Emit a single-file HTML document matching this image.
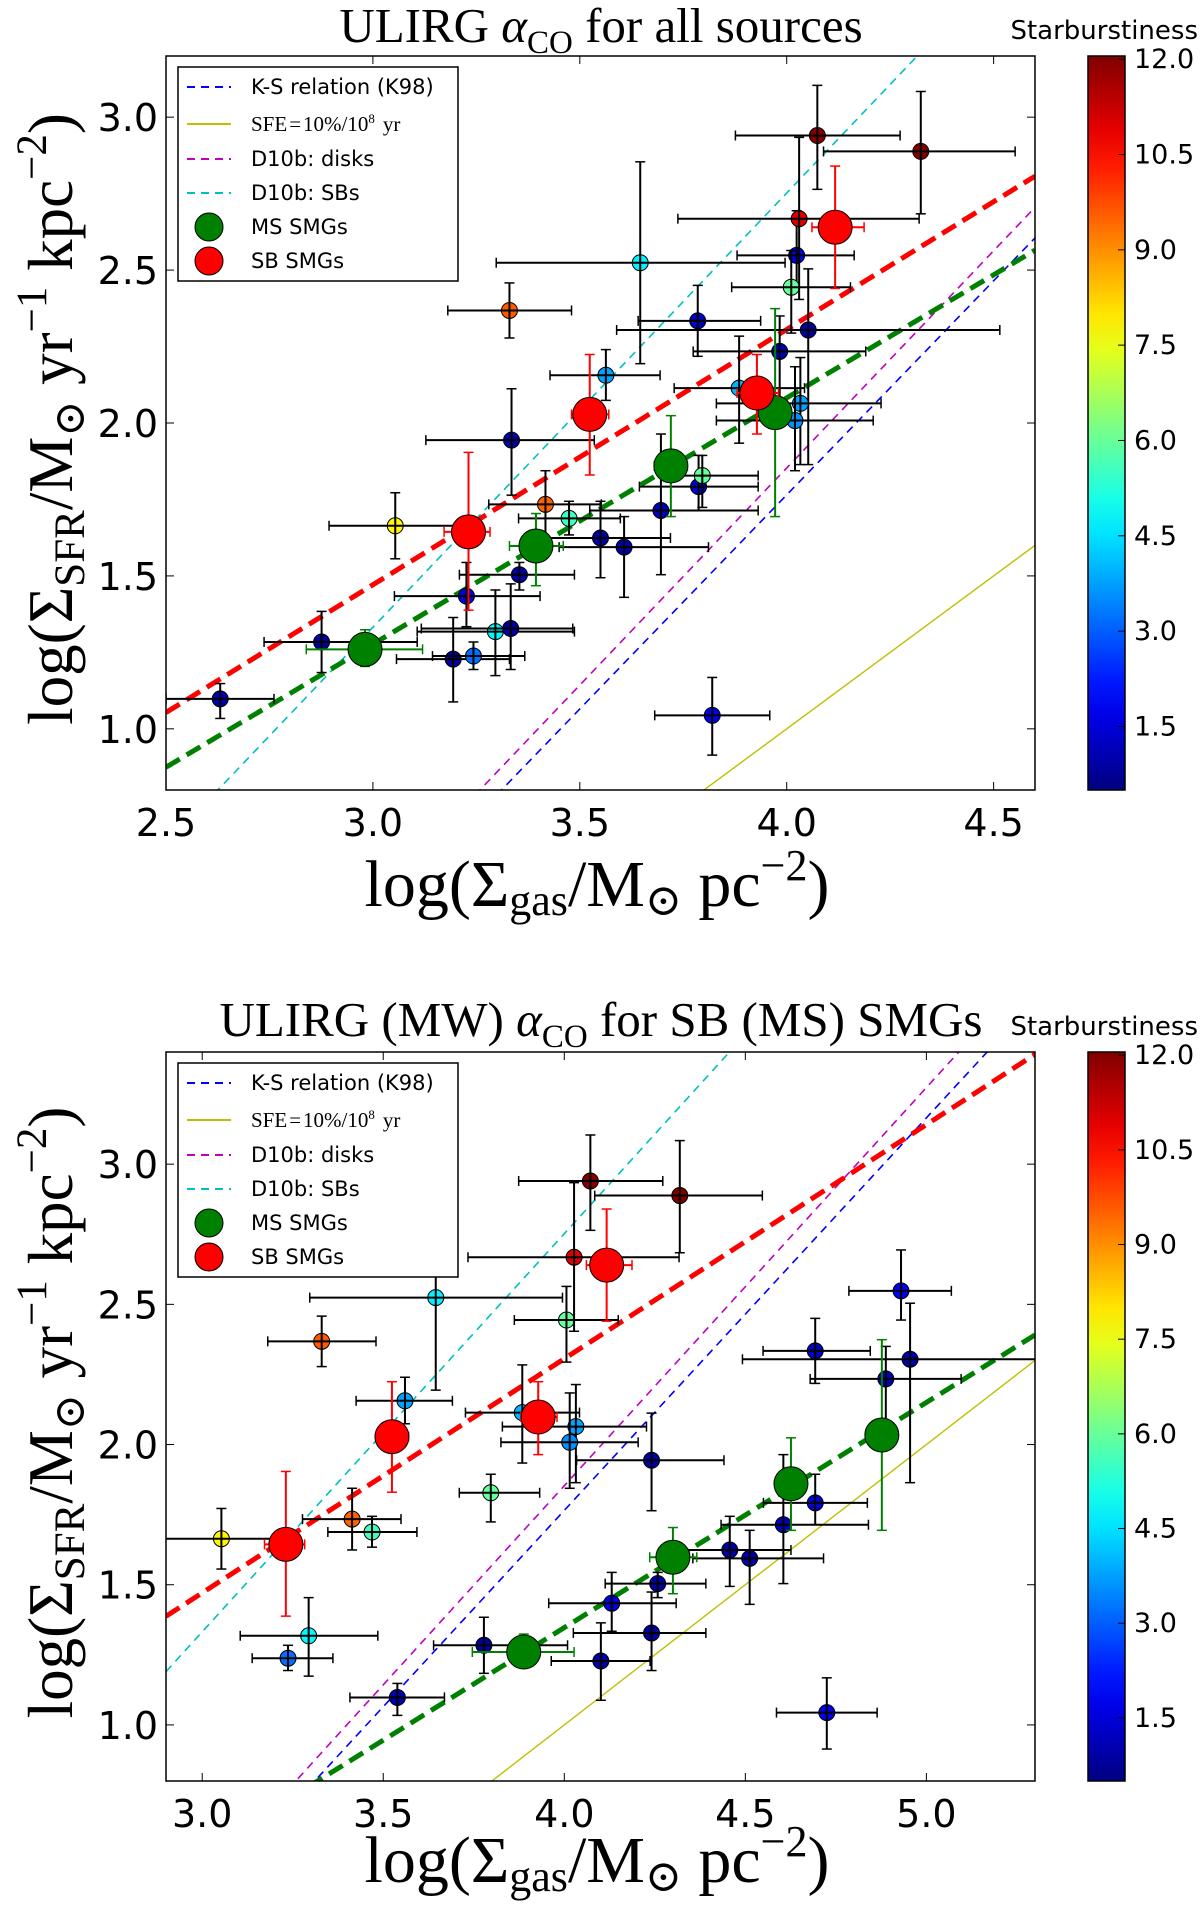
<!DOCTYPE html>
<html><head><meta charset="utf-8"><style>
html,body{margin:0;padding:0;background:#fff;overflow:hidden;width:1200px;height:1927px;}
svg{display:block;}
text{font-family:"DejaVu Sans","Liberation Sans",sans-serif;}
.serif{font-family:"Liberation Serif","DejaVu Serif",serif;}
</style></head><body>
<svg id="fig" xmlns="http://www.w3.org/2000/svg" width="1200" height="1927" viewBox="0 0 1200 1927" overflow="hidden">
<defs id="defs"></defs>
</svg>
<script>
// ---- data ----
const xTop=[2.631,2.876,3.054,3.33,3.335,3.417,3.474,3.354,3.226,3.296,3.333,3.194,3.243,3.563,3.646,3.55,3.607,3.696,3.785,3.787,3.796,3.82,3.885,3.983,4.024,4.011,4.03,4.074,4.324,4.052,4.033,4.02];
const xBot=[3.539,3.778,3.053,3.33,4.241,3.414,3.469,4.258,4.131,3.294,4.241,4.101,3.237,3.56,3.645,4.457,4.512,4.605,4.693,4.693,3.797,4.725,3.884,4.888,4.93,4.006,4.027,4.072,4.319,4.955,4.032,4.015];
const yVal=[1.098,1.284,1.664,2.368,1.944,1.734,1.688,1.504,1.434,1.318,1.328,1.228,1.238,2.156,2.524,1.624,1.594,1.714,2.334,1.792,1.828,1.044,2.114,2.234,2.548,2.444,2.668,2.94,2.888,2.304,2.064,2.008];
const xLo=[2.5,2.737,2.894,3.181,3.128,3.28,3.352,3.209,3.052,3.107,3.117,3.057,3.144,3.428,3.298,3.376,3.45,3.524,3.641,3.644,3.709,3.681,3.728,3.774,3.88,3.867,3.737,3.876,4.089,3.589,3.83,3.83];
const xHi=[2.761,3.107,3.209,3.48,3.535,3.552,3.598,3.487,3.404,3.487,3.483,3.33,3.367,3.694,3.996,3.719,3.811,3.931,3.937,3.931,3.931,3.959,4.043,4.191,4.163,4.154,4.32,4.274,4.552,4.515,4.228,4.209];
const yLo=[1.034,1.184,1.556,2.278,1.764,1.624,1.634,1.454,1.334,1.174,1.194,1.088,1.194,2.074,2.194,1.494,1.43,1.504,2.218,1.714,1.724,0.914,1.934,1.994,2.444,2.294,2.404,2.764,2.684,1.864,1.864,1.844];
const yHi=[1.148,1.384,1.772,2.458,2.112,1.844,1.744,1.544,1.544,1.454,1.474,1.364,1.284,2.24,2.854,1.744,1.694,1.964,2.45,1.894,1.894,1.168,2.284,2.35,2.694,2.564,2.934,3.104,3.084,2.504,2.214,2.184];
const sbness=[1.0,0.8,7.8,9.6,0.9,9.5,5.5,0.9,1.6,4.8,0.8,0.9,3.2,3.8,4.7,0.9,0.9,1.1,1.2,1.4,6.0,1.7,4.0,1.1,1.8,6.0,11.0,12.0,12.3,0.9,3.8,3.6];
// big MS SMGs
const msXTop=[2.981,3.394,3.72,3.972];
const msXBot=[3.888,4.30,4.626,4.877];
const msY=[1.26,1.598,1.86,2.034];
const msXLo=[2.839,3.33,3.68,3.93];
const msXHi=[3.12,3.46,3.76,4.01];
const msYLo=[1.204,1.468,1.694,1.694];
const msYHi=[1.324,1.704,2.024,2.374];
// big SB SMGs
const sbX=[3.231,3.524,3.928,4.117];
const sbY=[1.644,2.028,2.098,2.64];
const sbXLo=[3.172,3.48,3.88,4.061];
const sbXHi=[3.283,3.57,3.98,4.187];
const sbYLo=[1.388,1.83,1.964,2.44];
const sbYHi=[1.904,2.224,2.224,2.84];
// relations: [slope, intercept]
const ksLine=[1.4,-3.835];
const sfeLine=[1.0,-3.0];
const diskLine=[1.42,-3.827];
const sbLine=[1.42,-2.928];
const sbFitLine=[0.835,-1.034];
const msFitTop=[0.805,-1.138];
const msFitBot=[0.803,-1.865];
const xTicksTop=[2.5,3.0,3.5,4.0,4.5];
const xTicksBot=[3.0,3.5,4.0,4.5,5.0];
const yTicksTop=[1.0,1.5,2.0,2.5,3.0];
const yTicksBot=[1.0,1.5,2.0,2.5,3.0];
const cbTicks=[1.5,3.0,4.5,6.0,7.5,9.0,10.5,12.0];
const cbMin=0.5, cbMax=12.05;

const NS="http://www.w3.org/2000/svg";
const svg=document.getElementById('fig');
const defs=document.getElementById('defs');
function mk(tag,attrs,parent){const e=document.createElementNS(NS,tag);for(const k in attrs)e.setAttribute(k,attrs[k]);(parent||svg).appendChild(e);return e;}
function jet(t){t=Math.max(0,Math.min(1,t));const c=v=>Math.round(255*Math.max(0,Math.min(1,v)));
 return `rgb(${c(1.5-Math.abs(4*t-3))},${c(1.5-Math.abs(4*t-2))},${c(1.5-Math.abs(4*t-1))})`;}
function cmap(v){return jet((v-cbMin)/(cbMax-cbMin));}

const grad=mk('linearGradient',{id:'jetg',x1:0,y1:1,x2:0,y2:0},defs);
for(let i=0;i<=20;i++){mk('stop',{offset:(i/20),'stop-color':jet(i/20)},grad);}

function panel(p,idx){
 const sx=v=>p.x0+(v-p.xmin)/(p.xmax-p.xmin)*(p.x1-p.x0);
 const sy=v=>p.y1-(v-p.ymin)/(p.ymax-p.ymin)*(p.y1-p.y0);
 const g=mk('g',{});
 
 
 const cp=mk('clipPath',{id:'clip'+idx},defs);
 mk('rect',{x:p.x0,y:p.y0,width:p.x1-p.x0,height:p.y1-p.y0},cp);
 const plot=mk('g',{'clip-path':`url(#clip${idx})`},g);
 
 
 const lines=[[ksLine,'#0000ff',1.6,'8,6','ks-relation-line'],[diskLine,'#bf00bf',1.6,'8,6','d10b-disks-line'],[sbLine,'#00bfbf',1.6,'8,6','d10b-sbs-line'],[sfeLine,'#bfbf00',1.4,'none','sfe-line'],[sbFitLine,'#ff0000',5,'16,8','sb-fit-line'],[p.msFit,'#008000',5,'16,8','ms-fit-line']];
 lines.forEach(L=>{const [m,b]=L[0];const l=mk('line',{x1:sx(p.xmin),y1:sy(m*p.xmin+b),x2:sx(p.xmax),y2:sy(m*p.xmax+b),stroke:L[1],'stroke-width':L[2],'stroke-dasharray':L[3]},plot);
  
  });
 function eb(x,y,xl,xh,yl,yh,col,parent){
  mk('line',{x1:sx(xl),y1:sy(y),x2:sx(xh),y2:sy(y),stroke:col,'stroke-width':2},parent);
  mk('line',{x1:sx(x),y1:sy(yl),x2:sx(x),y2:sy(yh),stroke:col,'stroke-width':2},parent);
  [xl,xh].forEach(v=>mk('line',{x1:sx(v),y1:sy(y)-5,x2:sx(v),y2:sy(y)+5,stroke:col,'stroke-width':1.5},parent));
  [yl,yh].forEach(v=>mk('line',{x1:sx(x)-5,y1:sy(v),x2:sx(x)+5,y2:sy(v),stroke:col,'stroke-width':1.5},parent));
 }
 const xs=p.xs;
 for(let i=0;i<yVal.length;i++){
  const d=xs[i]-xTop[i];
  const pg=mk('g',{},plot);
  
  
  mk('circle',{cx:sx(xs[i]),cy:sy(yVal[i]),r:8,fill:cmap(sbness[i]),stroke:'#000','stroke-width':1},pg);
  eb(xs[i],yVal[i],xLo[i]+d,xHi[i]+d,yLo[i],yHi[i],'#000',pg);
 }
 for(let i=0;i<msY.length;i++){
  const d=p.msX[i]-msXTop[i];
  const pg=mk('g',{},plot);
  
  
  eb(p.msX[i],msY[i],msXLo[i]+d,msXHi[i]+d,msYLo[i],msYHi[i],'#008000',pg);
  mk('circle',{cx:sx(p.msX[i]),cy:sy(msY[i]),r:17,fill:'#008000',stroke:'#000','stroke-width':1},pg);
 }
 for(let i=0;i<sbY.length;i++){
  const pg=mk('g',{},plot);
  
  
  eb(sbX[i],sbY[i],sbXLo[i],sbXHi[i],sbYLo[i],sbYHi[i],'#ff0000',pg);
  mk('circle',{cx:sx(sbX[i]),cy:sy(sbY[i]),r:17,fill:'#ff0000',stroke:'#000','stroke-width':1},pg);
 }
 const fr=mk('rect',{x:p.x0,y:p.y0,width:p.x1-p.x0,height:p.y1-p.y0,fill:'none',stroke:'#000','stroke-width':1.5},g);
 
 
 p.xticks.forEach(v=>{const X=sx(v);
  mk('line',{x1:X,y1:p.y1,x2:X,y2:p.y1-8,stroke:'#000','stroke-width':1},g);
  mk('line',{x1:X,y1:p.y0,x2:X,y2:p.y0+8,stroke:'#000','stroke-width':1},g);
  const t=mk('text',{x:X,y:p.y1+46,'font-size':38,'text-anchor':'middle'},g);t.textContent=v.toFixed(1);
  
  });
 p.yticks.forEach(v=>{const Y=sy(v);
  mk('line',{x1:p.x0,y1:Y,x2:p.x0+8,y2:Y,stroke:'#000','stroke-width':1},g);
  mk('line',{x1:p.x1,y1:Y,x2:p.x1-8,y2:Y,stroke:'#000','stroke-width':1},g);
  const t=mk('text',{x:p.x0-8,y:Y+14,'font-size':38,'text-anchor':'end'},g);t.textContent=v.toFixed(1);
  
  });
 const lg=mk('g',{},g);
 
 
 const ly=p.y0+11;
 mk('rect',{x:178,y:ly,width:280,height:214,fill:'#fff',stroke:'#000','stroke-width':1.5},lg);
 const ents=[['K-S relation (K98)','#0000ff','8,6','ks'],['SFE','#bfbf00','none','sfe'],['D10b: disks','#bf00bf','8,6','disk'],['D10b: SBs','#00bfbf','8,6','sbs'],['MS SMGs','#008000','dot','ms'],['SB SMGs','#ff0000','dot','sb']];
 const eys=[20,57,92,126,160,194];
 ents.forEach((e,k)=>{const Y=ly+eys[k];
  const eg=mk('g',{},lg);
  
  
  if(e[2]==='dot'){mk('circle',{cx:209,cy:Y,r:14,fill:e[1],stroke:'#000','stroke-width':1},eg);}
  else mk('line',{x1:187,y1:Y,x2:231,y2:Y,stroke:e[1],'stroke-width':2,'stroke-dasharray':e[2]},eg);
  const t=mk('text',{x:251,y:Y+7,'font-size':21},eg);
  if(e[3]==='sfe'){t.setAttribute('class','serif');t.setAttribute('font-size',21);
   t.innerHTML='SFE<tspan dx="2">=</tspan><tspan dx="2">10%/10</tspan><tspan dy="-8" font-size="13">8</tspan><tspan dy="8" dx="8">yr</tspan>';}
  else t.textContent=e[0];});
 const tt=mk('text',{x:601,y:p.titleY,'font-size':49,'text-anchor':'middle',class:'serif'},g);
 tt.innerHTML=p.title;
 
 
 const xl=mk('text',{x:597,y:p.y1+p.xlOff,'font-size':66,'text-anchor':'middle',class:'serif'},g);
 xl.innerHTML='log(Σ<tspan dy="9" font-size="44">gas</tspan><tspan dy="-9">/M</tspan><tspan dy="9" font-size="44">⊙</tspan><tspan dy="-9"> pc</tspan><tspan dy="-26" font-size="44">−2</tspan><tspan dy="26">)</tspan>';
 
 
 const cy=(p.y0+p.y1)/2-4;
 const yl=mk('text',{x:0,y:0,'font-size':63,'text-anchor':'middle',class:'serif',transform:`translate(72,${cy}) rotate(-90)`},g);
 yl.innerHTML='log(Σ<tspan dy="12" font-size="43">SFR</tspan><tspan dy="-12">/M</tspan><tspan dy="12" font-size="43">⊙</tspan><tspan dy="-12"> yr</tspan><tspan dy="-26" font-size="43">−1</tspan><tspan dy="26"> kpc</tspan><tspan dy="-26" font-size="43">−2</tspan><tspan dy="26">)</tspan>';
 
 
 const cb=mk('g',{},g);
 
 
 mk('rect',{x:1088,y:p.y0,width:37,height:p.y1-p.y0,fill:'url(#jetg)',stroke:'#000','stroke-width':1.5},cb);
 const cs=v=>p.y1-(v-cbMin)/(cbMax-cbMin)*(p.y1-p.y0);
 cbTicks.forEach(v=>{const Y=cs(v);
  mk('line',{x1:1118,y1:Y,x2:1125,y2:Y,stroke:'#000','stroke-width':1},cb);
  const t=mk('text',{x:1134,y:Y+9,'font-size':27},cb);t.textContent=v.toFixed(1);
  
  });
 const ct=mk('text',{x:1198,y:p.cbTitleY,'font-size':26,'text-anchor':'end'},cb);ct.textContent='Starburstiness';
 
 
}
panel({name:'top-panel',x0:166,x1:1035,y0:56,y1:790,xmin:2.5,xmax:4.6,ymin:0.8,ymax:3.2,xticks:xTicksTop,yticks:yTicksTop,xs:xTop,msX:msXTop,msFit:msFitTop,xlOff:116,
 title:'ULIRG <tspan font-style="italic">α</tspan><tspan dy="11" font-size="33">CO</tspan><tspan dy="-11"> for all sources</tspan>',titleY:42,cbTitleY:39},0);
panel({name:'bottom-panel',x0:166,x1:1035,y0:1052,y1:1781,xmin:2.9,xmax:5.3,ymin:0.8,ymax:3.4,xticks:xTicksBot,yticks:yTicksBot,xs:xBot,msX:msXBot,msFit:msFitBot,xlOff:101,
 title:'ULIRG (MW) <tspan font-style="italic">α</tspan><tspan dy="11" font-size="33">CO</tspan><tspan dy="-11"> for SB (MS) SMGs</tspan>',titleY:1036,cbTitleY:1035},1);
</script>
</body></html>
